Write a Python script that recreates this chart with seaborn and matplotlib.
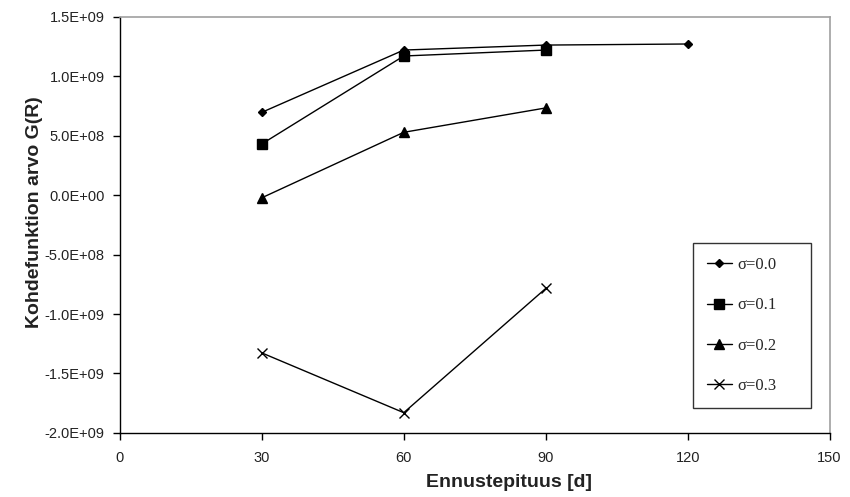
import numpy as np
import pandas as pd
import matplotlib
matplotlib.use('Agg')
import matplotlib.pyplot as plt
import seaborn as sns

# values
sigma_labels = ['σ=0.0', 'σ=0.1', 'σ=0.2', 'σ=0.3']
days_00 = [30, 60, 90, 120]
vals_00 = [0.697e9, 1.221e9, 1.263e9, 1.272e9]
days_01 = [30, 60, 90]
vals_01 = [0.431e9, 1.171e9, 1.221e9]
days_02 = [30, 60, 90]
vals_02 = [-0.022e9, 0.529e9, 0.734e9]
days_03 = [30, 60, 90]
vals_03 = [-1.327e9, -1.830e9, -0.785e9]

x_ticks = [0, 30, 60, 90, 120, 150]
y_ticks = [-2.0e9, -1.5e9, -1.0e9, -0.5e9, 0.0, 0.5e9, 1.0e9, 1.5e9]

frames = []
for lab, d, v in zip(sigma_labels, [days_00, days_01, days_02, days_03],
                     [vals_00, vals_01, vals_02, vals_03]):
  frames.append(pd.DataFrame({'days': d, 'G': v, 'sigma': lab}))
df = pd.concat(frames, ignore_index=True)

sns.set_style('white')
plt.rcParams['font.family'] = ['Liberation Sans', 'DejaVu Sans']

fig, ax = plt.subplots(figsize=(8.5, 4.97), dpi=100)
fig.subplots_adjust(left=0.141, right=0.976, top=0.966, bottom=0.129)

markers = {'σ=0.0': 'D', 'σ=0.1': 's', 'σ=0.2': '^', 'σ=0.3': 'x'}
sizes_m = {'σ=0.0': 4, 'σ=0.1': 7, 'σ=0.2': 7.5, 'σ=0.3': 7}
for lab in sigma_labels:
  sub = df[df['sigma'] == lab]
  sns.lineplot(data=sub, x='days', y='G', ax=ax, color='black', linewidth=1,
               marker=markers[lab], markersize=sizes_m[lab],
               markeredgecolor='black', markerfacecolor='black',
               markeredgewidth=1, label=lab, sort=False)

ax.set_xlim(0, 150)
ax.set_ylim(-2.0e9, 1.5e9)
ax.set_xticks(x_ticks)
ax.set_xticklabels([str(t) for t in x_ticks], fontsize=10.5, color='#222222')
ax.set_yticks(y_ticks)
ax.set_yticklabels(['%.1E' % t for t in y_ticks], fontsize=10.5, color='#222222')
ax.tick_params(axis='both', direction='out', length=5, width=1, color='black',
               left=True, bottom=True)
ax.tick_params(axis='y', pad=6)
ax.tick_params(axis='x', pad=8)

for s in ['left', 'bottom']:
  ax.spines[s].set_color('black')
  ax.spines[s].set_linewidth(1)
for s in ['top', 'right']:
  ax.spines[s].set_color('#a0a0a0')
  ax.spines[s].set_linewidth(1.2)

ax.set_xlabel('Ennustepituus [d]', fontsize=14, fontweight='bold', color='#222222')
ax.set_ylabel('Kohdefunktion arvo G(R)', fontsize=14, fontweight='bold', color='#222222')
ax.xaxis.set_label_coords(0.548, -0.098)
ax.yaxis.set_label_coords(-0.108, 0.531)

leg = ax.legend(loc='upper left', bbox_to_anchor=(0.815, 0.167, 0.139, 0.344),
                bbox_transform=fig.transFigure, mode='expand', alignment='center',
                borderaxespad=0,
                prop={'family': 'Liberation Serif', 'size': 12},
                frameon=True, fancybox=False, borderpad=0.85, labelspacing=1.45,
                handlelength=1.5, handletextpad=0.3)
leg.get_frame().set_edgecolor('black')
leg.get_frame().set_linewidth(1)

plt.savefig('out.png', dpi=100)
plt.close()
